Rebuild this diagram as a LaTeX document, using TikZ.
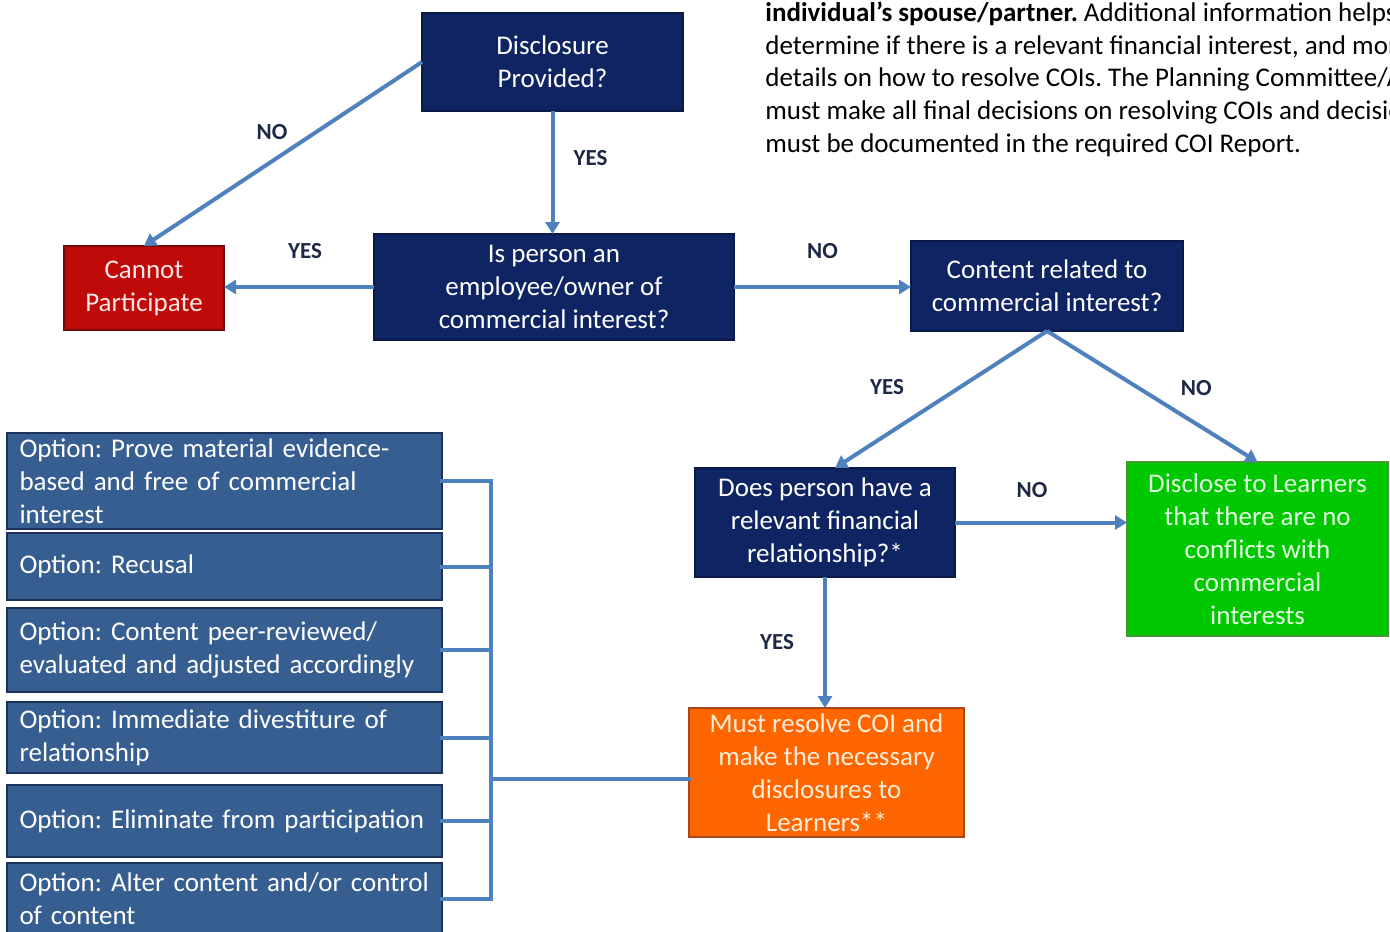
\documentclass[tikz,border=0pt]{standalone}
\usepackage{fontspec}
\setmainfont{Carlito}
\usetikzlibrary{arrows.meta}

\definecolor{navybox}{RGB}{15,36,98}
\definecolor{navyedge}{RGB}{10,25,70}
\definecolor{optfill}{RGB}{54,94,145}
\definecolor{optedge}{RGB}{28,50,90}
\definecolor{redfill}{RGB}{192,10,10}
\definecolor{rededge}{RGB}{110,10,10}
\definecolor{greenfill}{RGB}{0,200,0}
\definecolor{greenedge}{RGB}{70,150,50}
\definecolor{orangefill}{RGB}{255,102,0}
\definecolor{orangeedge}{RGB}{170,70,30}
\definecolor{arrowblue}{RGB}{79,129,189}
\definecolor{lbltext}{RGB}{30,40,70}

\newcommand{\boxfont}{\fontsize{13.5}{16.5}\selectfont\frenchspacing}

\tikzset{
  qbox/.style={draw=navyedge, line width=0.8pt, fill=navybox, text=white, align=center, font=\boxfont, inner sep=1pt, outer sep=0pt},
  redbox/.style={qbox, draw=rededge, fill=redfill, text=white!90!red},
  greenbox/.style={qbox, draw=greenedge, fill=greenfill, text=white!88!green},
  orangebox/.style={qbox, draw=orangeedge, fill=orangefill, text=white!85!orange},
  optbox/.style={draw=optedge, line width=1pt, fill=optfill, text=white, align=left, font=\boxfont, text width=205pt, inner xsep=6.25pt, inner ysep=1pt, outer sep=0pt},
  conn/.style={draw=arrowblue, line width=2pt, -{Triangle[length=6pt,width=7pt]}},
  bracket/.style={draw=arrowblue, line width=2pt, line cap=rect},
  lbl/.style={font=\fontsize{11.5}{13}\selectfont\bfseries, text=lbltext},
  note/.style={font=\boxfont, anchor=base west, inner sep=0pt}
}

\begin{document}
\begin{tikzpicture}[x=0.5pt, y=-0.5pt]
  \useasboundingbox (0,0) rectangle (1390,931);
  \clip (0,0) rectangle (1390,931);

  % note text, top right
  \node[note] (noteA) at (765,22) {\textbf{individual’s spouse/partner.} Additional information helps};
  \node[note] (noteB) at (765,54.5) {determine if there is a relevant financial interest, and more};
  \node[note] (noteC) at (765,87) {details on how to resolve COIs. The Planning Committee/A};
  \node[note] (noteD) at (765,119.5) {must make all final decisions on resolving COIs and decisions};
  \node[note] (noteE) at (765,152) {must be documented in the required COI Report.};

  % decision boxes
  \node[qbox, minimum width=130.5pt, minimum height=49pt] (dis) at (552.5,62) {Disclosure\\Provided?};
  \node[qbox, minimum width=180pt, minimum height=53pt] (isp) at (554,287) {Is person an\\employee/owner of\\commercial interest?};
  \node[redbox, minimum width=80pt, minimum height=42pt] (cant) at (144,288) {Cannot\\Participate};
  \node[qbox, minimum width=136pt, minimum height=45pt] (cont) at (1047,286) {Content related to\\commercial interest?};
  \node[qbox, minimum width=130pt, minimum height=54.5pt] (does) at (825,522.5) {Does person have a\\relevant financial\\relationship?*};
  \node[greenbox, minimum width=130.5pt, minimum height=87pt] (discl) at (1257.5,549) {Disclose to Learners\\that there are no\\conflicts with\\commercial\\interests};
  \node[orangebox, minimum width=137.5pt, minimum height=64.5pt, inner ysep=0pt] (must) at (826.5,772.5) {Must resolve COI and\\make the necessary\\disclosures to\\Learners**};

  % options
  \node[optbox, minimum height=48pt] (opt1) at (224.5,481) {Option: Prove material evidence-\\based and free of commercial\\interest};
  \node[optbox, minimum height=33.5pt] (opt2) at (224.5,566.5) {Option: Recusal};
  \node[optbox, minimum height=42pt] (opt3) at (224.5,650) {Option: Content peer-reviewed/\\\mbox{evaluated and adjusted accordingly}};
  \node[optbox, minimum height=35.5pt] (opt4) at (224.5,737.5) {Option: Immediate divestiture of\\relationship};
  \node[optbox, minimum height=36pt] (opt5) at (224.5,821) {\mbox{Option: Eliminate from participation}};
  \node[optbox, minimum height=36pt] (opt6) at (224.5,899) {\mbox{Option: Alter content and/or control}\\of content};

  % arrows
  \draw[conn] (dis.west) -- (cant.north) node[lbl,midway,shift={(-11,-22)}] (noA) {NO};
  \draw[conn] (dis.south) -- (dis.south |- isp.north) node[lbl,midway,shift={(38,-14)}] (yesA) {YES};
  \draw[conn] (isp.west) -- (isp.west -| cant.east) node[lbl,midway,shift={(6,-36)}] (yesB) {YES};
  \draw[conn] (isp.east) -- (isp.east -| cont.west) node[lbl,midway,shift={(0,-36)}] (noB) {NO};
  \draw[conn] (cont.south) -- ([xshift=5pt]does.north) node[lbl,midway,shift={(-54,-12)}] (yesC) {YES};
  \draw[conn] (cont.south) -- (discl.north) node[lbl,midway,shift={(44,-8)}] (noC) {NO};
  \draw[conn] (does.east) -- (does.east -| discl.west) node[lbl,midway,shift={(-9,-32)}] (noD) {NO};
  \draw[conn] (does.south) -- (does.south |- must.north) node[lbl,midway,shift={(-48,0)}] (yesD) {YES};

  % bracket joining the options
  \coordinate (jct) at (491,779);
  \foreach \i in {1,...,6}
    \draw[bracket] (opt\i.east) -- (opt\i.east -| jct);
  \draw[bracket] (opt1.east -| jct) -- (opt6.east -| jct);
  \draw[bracket] (jct) -- (jct -| must.west);
\end{tikzpicture}
\end{document}
